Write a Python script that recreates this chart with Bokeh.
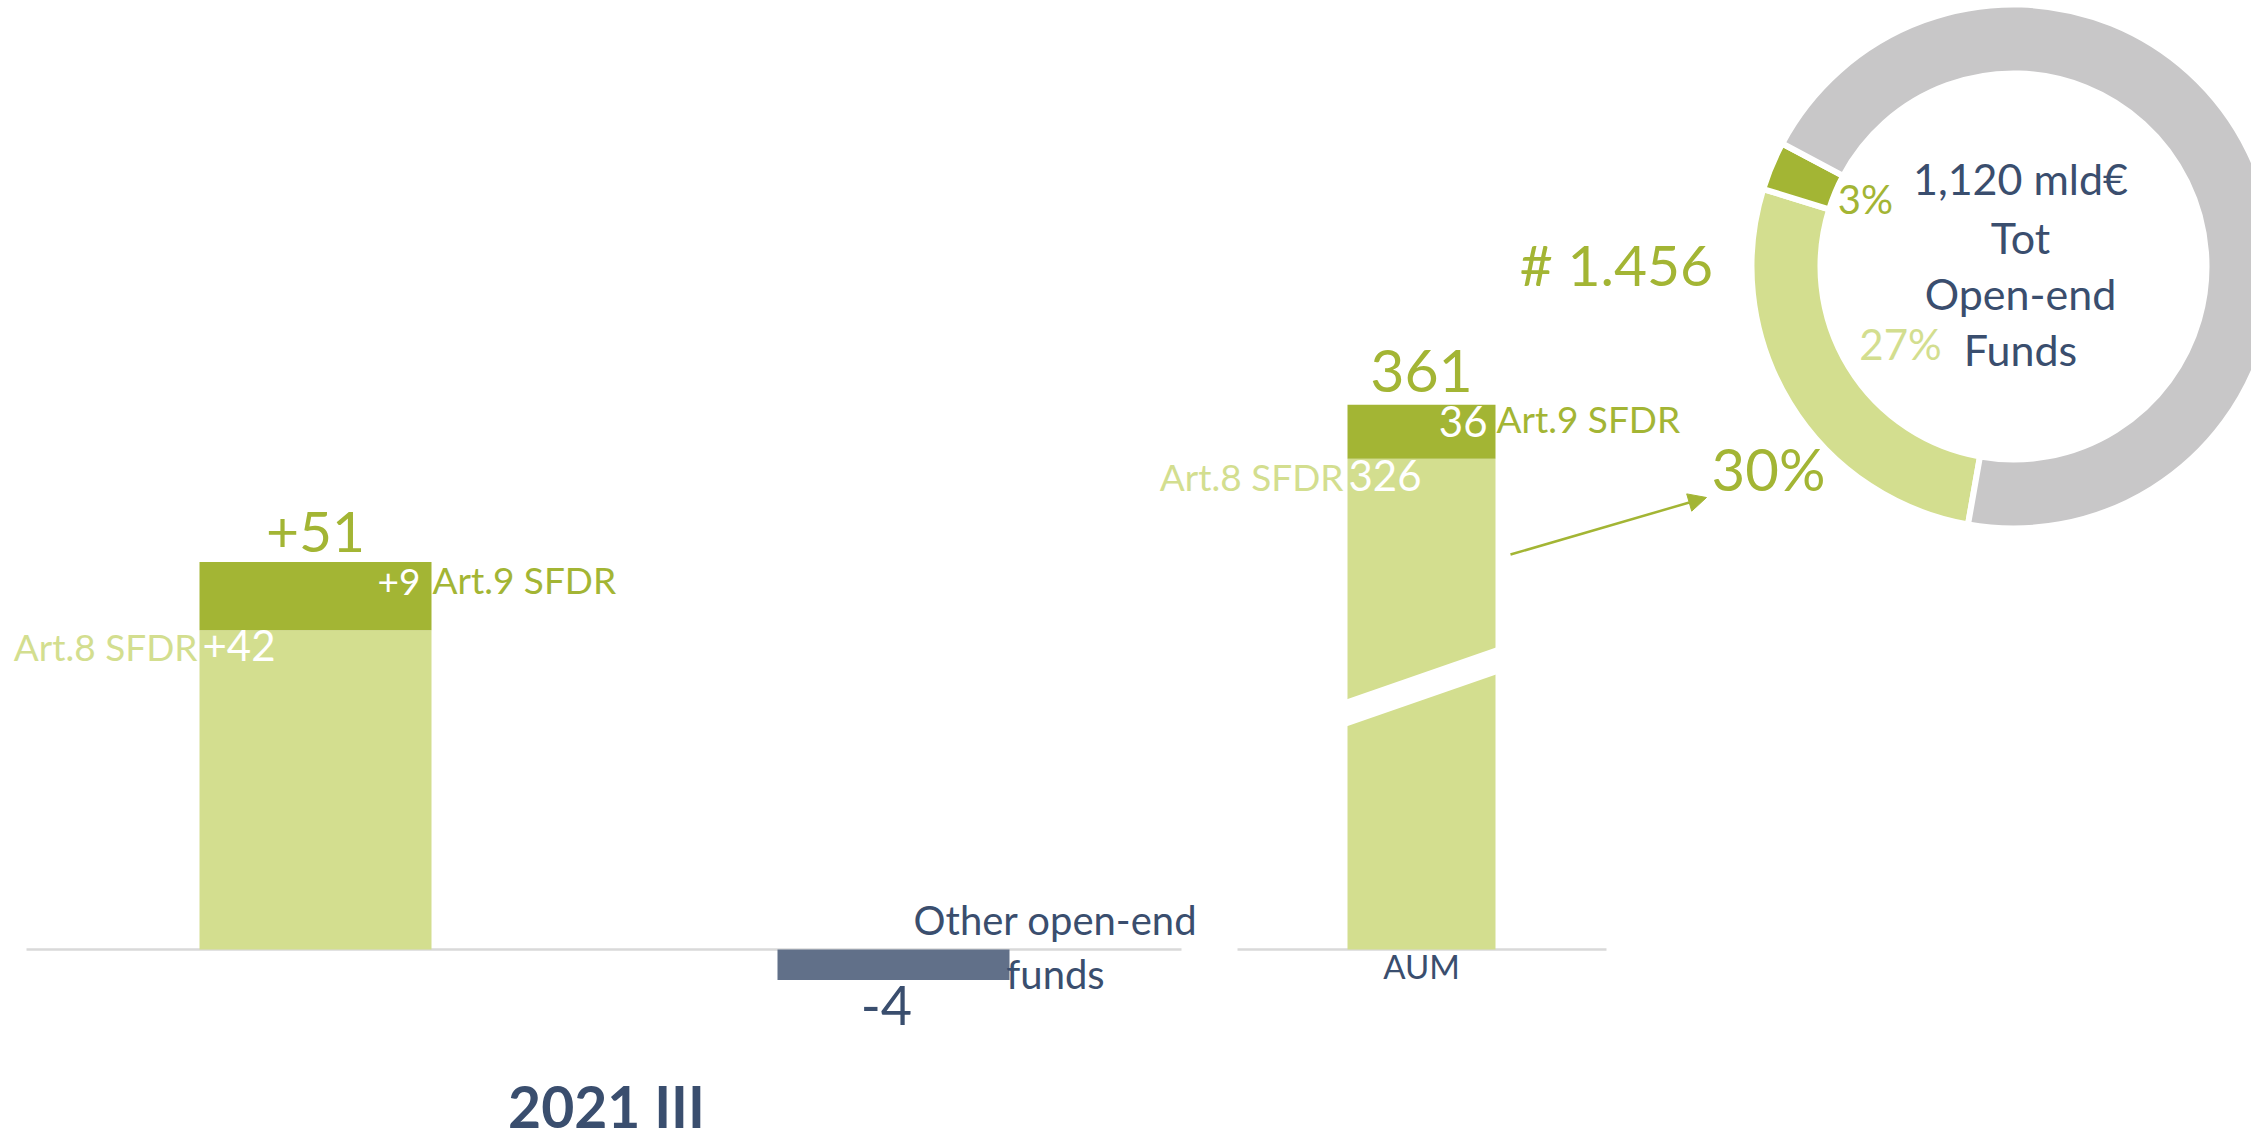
from bokeh.plotting import figure
from bokeh.models import Range1d, Arrow, NormalHead
from bokeh.core.properties import value
from bokeh.embed import file_html
from bokeh.resources import INLINE

# ---------------- data ----------------
flow_series = ["Art.8 SFDR", "Art.9 SFDR"]
flow_values = [42, 9]            # net flows 2021 III, SFDR funds
flow_labels = ["+42", "+9"]
flow_total_label = "+51"
other_values = [-4]              # other open-end funds
other_labels = ["-4"]
other_name = ["Other open-end", "funds"]
period = "2021 III"

aum_series = ["Art.8 SFDR", "Art.9 SFDR"]
aum_values = [326, 36]
aum_labels = ["326", "36"]
aum_total_label = "361"
aum_cat = "AUM"

share_names = ["Art.8 SFDR", "Art.9 SFDR", "Other"]
share_values = [27, 3, 70]       # % of total open-end funds
share_labels = ["27%", "3%", ""]
sfdr_share_label = "30%"
n_funds_label = "# 1.456"
center_lines = ["1,120 mld€", "Tot", "Open-end", "Funds"]

# ---------------- style / layout ----------------
W, H, OFF = 2251, 1140, 0
BASE_Y = 949
FLOW_PX = 7.6
AUM_PX = 1.505
DG = "#a3b534"
LG = "#d3de8f"
NAVY = "#3a4e6e"
NAVY_BAR = "#617089"
GRAY = "#c8c7c8"
AXIS = "#d9d9d9"
FONT = value("Lato")

p = figure(width=W, height=H, output_backend="svg", toolbar_location=None,
           x_range=Range1d(OFF, OFF + W),
           y_range=Range1d(-(OFF + H - BASE_Y) / FLOW_PX, (BASE_Y - OFF) / FLOW_PX),
           x_axis_location=None, y_axis_location=None, min_border=0,
           outline_line_color=None, background_fill_color="white",
           border_fill_color="white")
p.grid.visible = False
p.extra_y_ranges = {
    "aum": Range1d(-(OFF + H - BASE_Y) / AUM_PX, (BASE_Y - OFF) / AUM_PX),
    "px": Range1d(OFF + H, OFF),
}


def txt(x, y, s, size, color, align="center", rng="default", dy=0, bold=False):
    p.text(x=[x], y=[y], text=[s], text_font=FONT,
           text_font_size=value(f"{size}px"), text_color=color,
           text_align=align, text_baseline="alphabetic", y_offset=dy,
           text_font_style="bold" if bold else "normal", y_range_name=rng)


# baselines
p.segment(x0=[26], x1=[1181], y0=[0], y1=[0], line_color=AXIS, line_width=2.5)
p.segment(x0=[1237], x1=[1606], y0=[0], y1=[0], line_color=AXIS, line_width=2.5,
          y_range_name="aum")

# flow stacked bar
FX, FW = 315, 232
bottoms, tops, acc = [], [], 0
for v in flow_values:
    bottoms.append(acc)
    acc += v
    tops.append(acc)
p.vbar(x=[FX] * len(flow_values), bottom=bottoms, top=tops, width=FW,
       color=[LG, DG], line_color=None)

# other funds bar
OX = 893
p.vbar(x=[OX], bottom=[0], top=other_values, width=FW, color=NAVY_BAR, line_color=None)

# AUM stacked bar
AX, AW = 1421, 148
ab, at, acc = [], [], 0
for v in aum_values:
    ab.append(acc)
    acc += v
    at.append(acc)
p.vbar(x=[AX] * len(aum_values), bottom=ab, top=at, width=AW,
       color=[LG, DG], line_color=None, y_range_name="aum")

# axis break on AUM bar
BRK_LOW, BRK_RISE, BRK_GAP = 148, 35, 18
bx0, bx1 = AX - AW / 2 - 2, AX + AW / 2 + 2
p.patch(x=[bx0, bx1, bx1, bx0],
        y=[BRK_LOW, BRK_LOW + BRK_RISE, BRK_LOW + BRK_RISE + BRK_GAP, BRK_LOW + BRK_GAP],
        color="white", line_color=None, y_range_name="aum")

# labels on flow bar
ftop = tops[-1]
txt(FX, ftop, flow_total_label, 57, DG, dy=-30)
txt(FX + FW / 2 - 11, ftop, flow_labels[1], 37, "white", "right", dy=20)
txt(FX + FW / 2 + 1, ftop, flow_series[1], 37, DG, "left", dy=18)
txt(FX - FW / 2 - 2, tops[0], flow_series[0], 37, LG, "right", dy=16)
txt(FX - FW / 2 + 3, tops[0], flow_labels[0], 42, "white", "left", dy=15)

# labels on other bar
txt(OX - 7, other_values[0], other_labels[0], 54, NAVY, dy=26)
txt(1055, 0, other_name[0], 40, NAVY, dy=-30)
txt(1055, 0, other_name[1], 40, NAVY, dy=24)

# labels on AUM bar
atop = at[-1]
txt(AX, atop, aum_total_label, 59, DG, rng="aum", dy=-34)
txt(AX + AW / 2 - 8, atop, aum_labels[1], 42, "white", "right", rng="aum", dy=17)
txt(AX + AW / 2 + 1, atop, aum_series[1], 37, DG, "left", rng="aum", dy=14)
txt(AX - AW / 2 - 4, at[0], aum_series[0], 37, LG, "right", rng="aum", dy=18)
txt(AX - AW / 2 + 1, at[0], aum_labels[0], 42, "white", "left", rng="aum", dy=17)
txt(AX, 0, aum_cat, 33, NAVY, rng="aum", dy=16)

# period title
txt(606, 1105, period, 57, NAVY, rng="px", bold=True)

# arrow to share
p.add_layout(Arrow(end=NormalHead(size=18, fill_color=DG, line_color=DG),
                   x_start=AX + AW / 2 + 15, y_start=554, x_end=1706, y_end=497,
                   line_color=DG, line_width=2.5, y_range_name="px"))
txt(1768, 468, sfdr_share_label, 58, DG, rng="px")
txt(1616, 263, n_funds_label, 57, DG, rng="px")

# donut
CX, CY, R_OUT, R_IN, START = 2013, 266, 262, 193, 260
total = sum(share_values)
cols = [LG, DG, GRAY]
starts, ends, acc = [], [], 0
for v in share_values:
    starts.append(START - acc / total * 360)
    acc += v
    ends.append(START - acc / total * 360)
p.annular_wedge(x=[CX] * 3, y=[CY] * 3, inner_radius=R_IN, outer_radius=R_OUT,
                start_angle=starts, end_angle=ends, start_angle_units="deg",
                end_angle_units="deg", direction="clock", fill_color=cols,
                line_color="white", line_width=6, y_range_name="px")

txt(1865, 198, share_labels[1], 40, DG, rng="px")
txt(1900, 343, share_labels[0], 42, LG, rng="px")
for s, yb in zip(center_lines, [178, 237, 293, 349]):
    txt(2020, yb, s, 43, NAVY, rng="px")

open("out.html", "w").write(file_html(p, INLINE))
